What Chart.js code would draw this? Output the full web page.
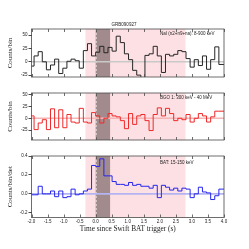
<!DOCTYPE html>
<html>
<head>
<meta charset="utf-8">
<script src="https://cdn.jsdelivr.net/npm/chart.js@4/dist/chart.umd.min.js"></script>
<style>
  html, body { margin: 0; padding: 0; background: #fff; }
  #wrap { position: relative; width: 249px; height: 249px; }
  #wrap canvas { position: absolute; left: 0; top: 0; }
</style>
</head>
<body>
<div id="wrap">
  <canvas id="naiChart" width="249" height="249"></canvas>
  <canvas id="bgoChart" width="249" height="249"></canvas>
  <canvas id="batChart" width="249" height="249"></canvas>
</div>
<script>
// light curve bins (s)
const binStart = -2.048;
const binWidth = 0.128;

// NaI (n2+n9+na): 8-900 keV, counts/bin
const naiCounts = [16, -8, 11, 19, 0, -15, -6, 5, -22, -12, 1, 5, 2, -12, 21, 34, 11, 18, 29, 17,
  27, 20, 48, 36, 15, 4, -16, -25, -45, 12, 15, 29, 11, -20, 14, 11, 14, 21, 19, 6,
  -10, 4, -7, 11, -14, 4, 28, -5];
// BGO 1: 300 keV - 40 MeV, counts/bin
const bgoCounts = [-8, 5, -24, -10, -3, -24, 20, -20, 18, -20, 8, -8, -10, 21, -8, -10, 12, 5, -10, 0,
  10, 5, 3, -5, -22, 10, -13, 5, 8, -5, -26, 8, 22, 5, 21, 10, -5, 0, -3, 8,
  -8, 0, 10, 5, -8, 3, 15, 15];
// BAT: 15-150 keV, counts/bin/det
const batCounts = [-0.05, -0.01, -0.01, 0.08, 0.0, 0.0, 0.03, -0.03, 0.03, -0.04, -0.03, 0.05, -0.01, 0.0, 0.03, 0.05,
  0.30, 0.29, 0.37, 0.19, 0.19, 0.13, 0.10, 0.10, 0.09, 0.12, 0.09, 0.10, 0.08, 0.08, 0.06, 0.09,
  -0.04, 0.09, 0.07, 0.04, 0.06, 0.03, 0.06, 0.05, -0.04, 0.0, 0.07, 0.02, 0.01, -0.06, -0.02, 0.05];

const naiTicks = [-25, 0, 25, 50];
const bgoTicks = [-25, 0, 25, 50];
const batTicks = [-0.2, 0.0, 0.2, 0.4];

// intervals (s)
const pinkRange = [-0.32, 2.8];
const darkRange = [0.0, 0.45];

Chart.defaults.font.family = "'Liberation Sans', Arial, sans-serif";
Chart.defaults.color = '#333';

function stepPoints(values) {
  const pts = values.map((v, i) => ({ x: binStart + i * binWidth, y: v }));
  pts.push({ x: binStart + values.length * binWidth, y: values[values.length - 1] });
  return pts;
}

const panelPlugin = {
  id: 'panel',
  beforeDatasetsDraw(chart, args, opts) {
    const { ctx, chartArea: a, scales: { x } } = chart;
    ctx.save();
    let p0 = x.getPixelForValue(pinkRange[0]);
    let p1 = x.getPixelForValue(pinkRange[1]);
    ctx.fillStyle = '#fde0e3';
    ctx.fillRect(p0, a.top, p1 - p0, a.bottom - a.top);
    p0 = x.getPixelForValue(darkRange[0]);
    p1 = x.getPixelForValue(darkRange[1]);
    ctx.fillStyle = '#a28b8c';
    ctx.fillRect(p0, a.top, p1 - p0, a.bottom - a.top);
    // trigger line
    ctx.strokeStyle = '#e8e0e0';
    ctx.lineWidth = 1;
    ctx.setLineDash([2, 2]);
    ctx.beginPath();
    ctx.moveTo(p0 + 0.5, a.top);
    ctx.lineTo(p0 + 0.5, a.bottom);
    ctx.stroke();
    ctx.restore();
  },
  afterDatasetsDraw(chart, args, opts) {
    const { ctx, chartArea: a, scales: { x } } = chart;
    ctx.save();
    ctx.strokeStyle = '#4a4a4a';
    ctx.lineWidth = 0.8;
    ctx.strokeRect(a.left, a.top, a.right - a.left, a.bottom - a.top);
    // inward time ticks
    ctx.beginPath();
    x.ticks.forEach(t => {
      const px = Math.round(x.getPixelForValue(t.value)) + 0.5;
      ctx.moveTo(px, a.bottom);
      ctx.lineTo(px, a.bottom - 3);
      ctx.moveTo(px, a.top);
      ctx.lineTo(px, a.top + 3);
    });
    ctx.stroke();
    ctx.fillStyle = '#222';
    ctx.font = "4.5px 'Liberation Sans', Arial, sans-serif";
    ctx.textAlign = 'left';
    ctx.textBaseline = 'middle';
    ctx.fillText(opts.label, 160, a.top + opts.labelOffset);
    if (opts.title) {
      ctx.textAlign = 'center';
      ctx.fillText(opts.title, 124, a.top - 4);
    }
    ctx.restore();
  }
};

function makePanel(id, values, yMin, yMax, yTicks, lineColor, zeroColor, label, labelOffset, yTitle, top, bottom, showX, title) {
  const decimals = yTicks.some(v => !Number.isInteger(v)) ? 1 : 0;
  return new Chart(document.getElementById(id), {
    type: 'line',
    data: {
      datasets: [
        {
          data: stepPoints(values),
          stepped: 'after',
          borderColor: lineColor,
          borderWidth: 1,
          pointRadius: 0,
          fill: false,
          order: 1
        },
        {
          data: [{ x: -2, y: 0 }, { x: 4, y: 0 }],
          borderColor: zeroColor,
          borderWidth: 1.6,
          pointRadius: 0,
          fill: false,
          order: 2
        }
      ]
    },
    options: {
      responsive: false,
      animation: false,
      devicePixelRatio: 1,
      layout: { padding: { top: top, bottom: showX ? 249 - bottom - 16 : 249 - bottom, left: 0, right: 25 } },
      plugins: {
        legend: { display: false },
        tooltip: { enabled: false },
        panel: { label: label, labelOffset: labelOffset, title: title }
      },
      scales: {
        x: {
          type: 'linear',
          min: -2,
          max: 4,
          display: showX,
          grid: { display: false, drawTicks: false },
          border: { display: false },
          ticks: {
            stepSize: 0.5,
            padding: 1.5,
            maxRotation: 0,
            font: { size: 4.5 },
            color: '#222',
            callback: v => v.toFixed(1)
          },
          title: {
            display: true,
            text: 'Time since Swift BAT trigger (s)',
            font: { family: "'Liberation Serif', 'Times New Roman', serif", size: 7.3 },
            color: '#222',
            padding: { top: 0, bottom: 0.5 }
          },
          afterFit: s => { s.height = 16; }
        },
        y: {
          min: yMin,
          max: yMax,
          grid: { display: true, drawOnChartArea: false, drawTicks: true, tickLength: 3, color: '#4a4a4a' },
          border: { display: false },
          afterBuildTicks: s => { s.ticks = yTicks.map(v => ({ value: v })); },
          ticks: {
            padding: 1,
            font: { size: 4.5 },
            color: '#222',
            callback: v => v.toFixed(decimals)
          },
          title: {
            display: true,
            text: yTitle,
            font: { family: "'Liberation Serif', 'Times New Roman', serif", size: 7 },
            color: '#222',
            padding: { top: 6, bottom: 0 }
          },
          afterFit: s => { s.width = 31.5; }
        }
      }
    },
    plugins: [panelPlugin]
  });
}

makePanel('naiChart', naiCounts, -28.5, 61.5, naiTicks, '#262626', '#c9c9c9',
  'NaI (n2+n9+na): 8-900 keV', 5, 'Counts/bin', 29, 93, false, 'GRB090927');
makePanel('bgoChart', bgoCounts, -46, 53.5, bgoTicks, '#f02828', '#f6b4b4',
  'BGO 1: 300 keV - 40 MeV', 5, 'Counts/bin', 93, 156, false, null);
makePanel('batChart', batCounts, -0.25, 0.4, batTicks, '#2626ee', '#b4b4f2',
  'BAT: 15-150 keV', 7, 'Counts/bin/det', 156, 217.5, true, null);
</script>
</body>
</html>
